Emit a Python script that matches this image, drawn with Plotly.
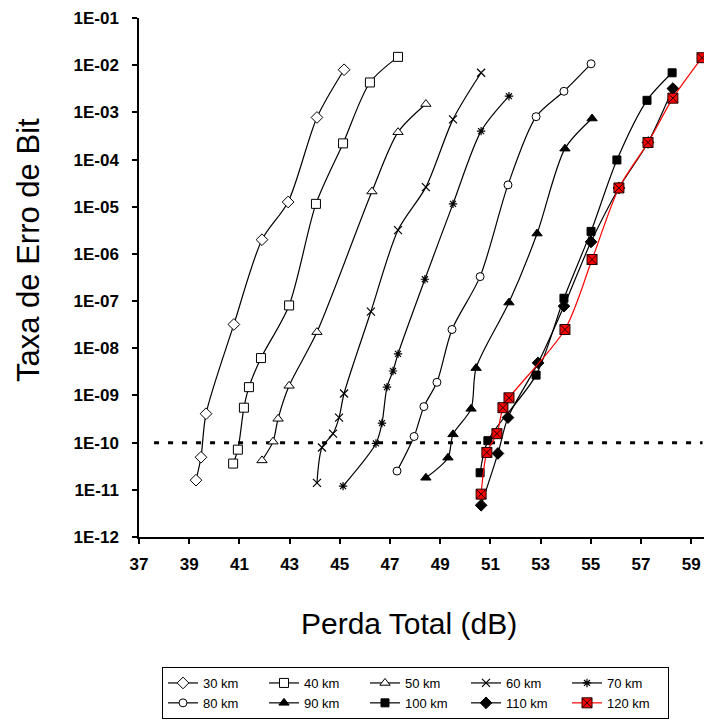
import plotly.graph_objects as go

# ---- data ----
x_30 = [39.27, 39.47, 39.67, 40.78, 41.90, 42.94, 44.09, 45.17]
y_30 = [1.6e-11, 4.9e-11, 4.1e-10, 3.2e-8, 2.0e-6, 1.26e-5, 7.8e-4, 8.0e-3]

x_40 = [40.75, 40.94, 41.18, 41.38, 41.86, 42.98, 44.05, 45.13, 46.20, 47.32]
y_40 = [3.6e-11, 7.1e-11, 5.5e-10, 1.5e-9, 6.2e-9, 8.1e-8, 1.15e-5, 2.2e-4, 4.3e-3, 1.5e-2]

x_50 = [41.90, 42.34, 42.54, 42.98, 44.09, 46.28, 47.32, 48.43]
y_50 = [4.2e-11, 1.05e-10, 3.2e-10, 1.6e-9, 2.2e-8, 2.1e-5, 3.8e-4, 1.5e-3]

x_60 = [44.09, 44.29, 44.73, 44.97, 45.17, 46.24, 47.32, 48.43, 49.51, 50.63]
y_60 = [1.4e-11, 7.9e-11, 1.55e-10, 3.4e-10, 1.1e-9, 6.0e-8, 3.2e-6, 2.6e-5, 7.1e-4, 6.9e-3]

x_70 = [45.13, 46.44, 46.68, 46.88, 47.12, 47.32, 48.39, 49.51, 50.63, 51.74]
y_70 = [1.2e-11, 9.6e-11, 2.6e-10, 1.5e-9, 3.3e-9, 7.6e-9, 2.9e-7, 1.15e-5, 4.0e-4, 2.2e-3]

x_80 = [47.28, 47.96, 48.35, 48.87, 49.47, 50.59, 51.70, 52.82, 53.93, 55.01]
y_80 = [2.5e-11, 1.35e-10, 5.8e-10, 1.9e-9, 2.5e-8, 3.3e-7, 2.9e-5, 8.1e-4, 2.8e-3, 1.07e-2]

x_90 = [48.43, 49.31, 49.51, 50.23, 50.43, 51.74, 52.86, 53.97, 55.05]
y_90 = [1.8e-11, 4.8e-11, 1.5e-10, 5.2e-10, 3.8e-9, 9.3e-8, 2.7e-6, 1.7e-4, 7.4e-4]

x_100 = [50.59, 50.90, 52.82, 53.93, 55.01, 56.04, 57.24, 58.24]
y_100 = [2.3e-11, 1.1e-10, 2.7e-9, 1.15e-7, 3.0e-6, 9.8e-5, 1.8e-3, 6.9e-3]

x_110 = [50.63, 51.30, 51.70, 52.90, 53.93, 55.01, 56.12, 57.28, 58.27]
y_110 = [4.7e-12, 5.9e-11, 3.4e-10, 4.9e-9, 7.8e-8, 1.8e-6, 2.5e-5, 2.3e-4, 3.2e-3]

x_120 = [50.63, 50.86, 51.26, 51.50, 51.74, 53.97, 55.05, 56.12, 57.28, 58.27, 59.43]
y_120 = [8.1e-12, 6.2e-11, 1.55e-10, 5.5e-10, 8.9e-10, 2.5e-8, 7.6e-7, 2.5e-5, 2.3e-4, 2.0e-3, 1.44e-2]

threshold_x = [37.6, 59.45]
threshold_y = [1e-10, 1e-10]

series_names = ["30 km", "40 km", "50 km", "60 km", "70 km",
                "80 km", "90 km", "100 km", "110 km", "120 km"]

x_ticks = [37, 39, 41, 43, 45, 47, 49, 51, 53, 55, 57, 59]
y_ticks = [1e-1, 1e-2, 1e-3, 1e-4, 1e-5, 1e-6, 1e-7, 1e-8, 1e-9, 1e-10, 1e-11, 1e-12]
y_tick_labels = ["1E-01", "1E-02", "1E-03", "1E-04", "1E-05", "1E-06",
                 "1E-07", "1E-08", "1E-09", "1E-10", "1E-11", "1E-12"]

# ---- styles ----
xs = [x_30, x_40, x_50, x_60, x_70, x_80, x_90, x_100, x_110, x_120]
ys = [y_30, y_40, y_50, y_60, y_70, y_80, y_90, y_100, y_110, y_120]
styles = [
    dict(symbol="diamond", size=9, color="white", lc="black", lw=1),
    dict(symbol="square", size=9, color="white", lc="black", lw=1),
    dict(symbol="triangle-up", size=9, color="white", lc="black", lw=1),
    dict(symbol="x-thin", size=8, color="black", lc="black", lw=1.2),
    dict(symbol="asterisk", size=7, color="black", lc="black", lw=1.2),
    dict(symbol="circle", size=8, color="white", lc="black", lw=1),
    dict(symbol="triangle-up", size=9, color="black", lc="black", lw=1),
    dict(symbol="square", size=8, color="black", lc="black", lw=1),
    dict(symbol="diamond", size=9, color="black", lc="black", lw=1),
    dict(symbol="square-x", size=10, color="#ff0000", lc="#200000", lw=1),
]

fig = go.Figure()

fig.add_trace(go.Scatter(
    x=threshold_x, y=threshold_y, mode="lines", showlegend=False,
    line=dict(color="black", width=3, dash="5px,9px"), hoverinfo="skip"))

for name, xv, yv, st in zip(series_names, xs, ys, styles):
    line_color = "#ff0000" if name == "120 km" else "black"
    fig.add_trace(go.Scatter(
        x=xv, y=yv, name=name, mode="lines+markers",
        line=dict(color=line_color, width=1.2, shape="spline", smoothing=0.8),
        marker=dict(symbol=st["symbol"], size=st["size"], color=st["color"],
                    line=dict(color=st["lc"], width=st["lw"])),
    ))

# page has an 8px body margin -> work in page pixels and subtract it
OFF = 8
FW, FH = 712 - OFF, 720 - OFF
PL, PT, PB = 139, 18, 537          # plot-area edges in page pixels
L = PL - OFF
T = PT - OFF
B = FH - (PB - OFF)
W_plot = FW - L
H_plot = FH - T - B


def px(xp):
    return (xp - PL) / W_plot


def py(yp):
    return (PB - yp) / H_plot


TICKFONT = dict(size=17, weight="bold", family="Liberation Sans, Arial, sans-serif")

fig.update_layout(
    width=FW, height=FH,
    margin=dict(l=L, r=0, t=T, b=B, autoexpand=False),
    paper_bgcolor="white", plot_bgcolor="white",
    font=dict(family="Liberation Sans, Arial, sans-serif", color="black"),
    showlegend=True,
    legend=dict(
        orientation="h", x=px(162), y=py(667),
        xanchor="left", yanchor="top",
        bordercolor="black", borderwidth=1, bgcolor="white",
        font=dict(size=13, family="Liberation Sans, Arial, sans-serif"),
        entrywidth=56, entrywidthmode="pixels", itemwidth=30,
        traceorder="normal",
    ),
    xaxis=dict(
        range=[37, 37 + W_plot / 25.1], tickvals=x_ticks,
        showline=True, linecolor="black", linewidth=1.5,
        ticks="outside", ticklen=5, tickcolor="black", tickwidth=1.5,
        showgrid=False, zeroline=False, ticklabelstandoff=6,
        ticklabeloverflow="allow", tickfont=TICKFONT,
    ),
    yaxis=dict(
        type="log", range=[-12, -1], tickvals=y_ticks, ticktext=y_tick_labels,
        showline=True, linecolor="black", linewidth=1.5,
        ticks="outside", ticklen=5, tickcolor="black", tickwidth=1.5,
        showgrid=False, zeroline=False, ticklabelstandoff=10,
        ticklabeloverflow="allow", tickfont=TICKFONT,
    ),
    annotations=[
        dict(text="Taxa de Erro de Bit", textangle=-90, showarrow=False,
             xref="paper", yref="paper", x=px(29), y=py(250),
             xanchor="center", yanchor="middle",
             font=dict(size=31, family="Liberation Sans, Arial, sans-serif")),
        dict(text="Perda Total (dB)", showarrow=False,
             xref="paper", yref="paper", x=px(409), y=py(623),
             xanchor="center", yanchor="middle",
             font=dict(size=30, family="Liberation Sans, Arial, sans-serif")),
    ],
)

fig.write_html("out.html")
